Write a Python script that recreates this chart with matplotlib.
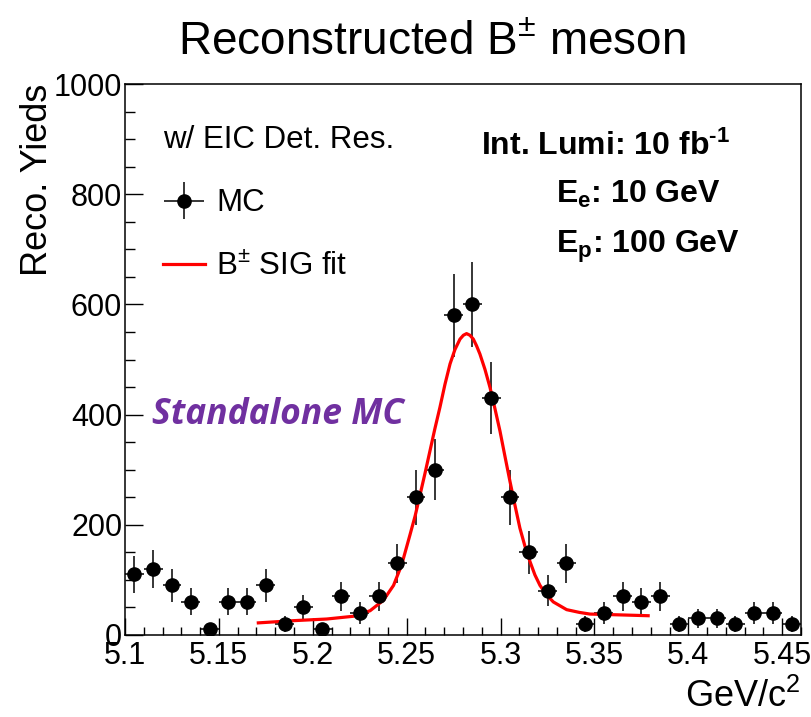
import numpy as np
import matplotlib
matplotlib.use('Agg')
import matplotlib.pyplot as plt
from matplotlib.ticker import MultipleLocator
from matplotlib.container import ErrorbarContainer
from matplotlib.legend_handler import HandlerErrorbar

plt.rcParams['font.family'] = ['Liberation Sans', 'DejaVu Sans']
plt.rcParams['mathtext.fontset'] = 'custom'
plt.rcParams['mathtext.rm'] = 'Liberation Sans'
plt.rcParams['mathtext.it'] = 'Liberation Sans:italic'
plt.rcParams['mathtext.bf'] = 'Liberation Sans:bold'

# B mass histogram (bin centres, GeV/c^2)
mass = [5.105, 5.115, 5.125, 5.135, 5.145, 5.155, 5.165, 5.175, 5.185, 5.195,
        5.205, 5.215, 5.225, 5.235, 5.245, 5.255, 5.265, 5.275, 5.285, 5.295,
        5.305, 5.315, 5.325, 5.335, 5.345, 5.355, 5.365, 5.375, 5.385, 5.395,
        5.405, 5.415, 5.425, 5.435, 5.445, 5.455]
yields = [110, 120, 90, 60, 10, 60, 60, 90, 20, 50,
          10, 70, 40, 70, 130, 250, 300, 580, 600, 430,
          250, 150, 80, 130, 20, 40, 70, 60, 70, 20,
          30, 30, 20, 40, 40, 20]
yield_err = [33, 35, 30, 24.5, 10, 24.5, 24.5, 30, 14, 22,
             10, 26.5, 20, 26.5, 36, 50, 55, 76, 77.5, 66,
             50, 39, 28, 36, 14, 20, 26.5, 24.5, 26.5, 14,
             17, 17, 14, 20, 20, 14]
bin_half = 0.005

# signal fit curve
fit_x = [5.171, 5.1896, 5.2074, 5.2216, 5.2305, 5.2376, 5.2430, 5.2473, 5.2517,
         5.2545, 5.2571, 5.2598, 5.2624, 5.2650, 5.2677, 5.2704, 5.2731, 5.2757,
         5.2784, 5.2802, 5.2819, 5.2837, 5.2855, 5.2872, 5.2890, 5.2917, 5.2944,
         5.2970, 5.2997, 5.3023, 5.3050, 5.3077, 5.3103, 5.3130, 5.3157, 5.3183,
         5.3210, 5.3245, 5.3281, 5.3352, 5.3420, 5.3476, 5.3636, 5.3786]
fit_y = [22, 26, 29, 34, 44, 63, 90, 127, 181,
         216, 254, 294, 334, 374, 413, 455, 492, 518,
         537, 544, 547, 544, 537, 525, 510, 482, 449,
         411, 370, 325, 279, 235, 194, 161, 133, 109,
         90, 73, 60, 46, 41, 38, 36.5, 35]

x_ticks = [5.1, 5.15, 5.2, 5.25, 5.3, 5.35, 5.4, 5.45]
x_ticklabels = ['5.1', '5.15', '5.2', '5.25', '5.3', '5.35', '5.4', '5.45']
y_ticks = [0, 200, 400, 600, 800, 1000]

W, H = 811, 717
fig = plt.figure(figsize=(W / 100, H / 100), dpi=100)
ax = fig.add_axes([125 / W, 1 - 635 / H, (801 - 125) / W, (635 - 84) / H])

eb = ax.errorbar(mass, yields, yerr=yield_err, xerr=bin_half, fmt='o', color='black',
                 ms=9.5, elinewidth=1.1, capsize=0, label='MC')
fit_line, = ax.plot(fit_x, fit_y, color='red', lw=2.3, label=r'B$^{\pm}$ SIG fit')

ax.set_xlim(5.1, 5.46)
ax.set_ylim(0, 1000)
ax.set_xticks(x_ticks)
ax.set_xticklabels(x_ticklabels)
ax.set_yticks(y_ticks)
ax.xaxis.set_minor_locator(MultipleLocator(0.01))
ax.yaxis.set_minor_locator(MultipleLocator(50))
ax.tick_params(axis='both', which='both', direction='in', labelsize=22)
ax.tick_params(axis='x', which='major', length=12, width=1, pad=4.5)
ax.tick_params(axis='x', which='minor', length=6, width=1)
ax.tick_params(axis='y', which='major', length=13, width=1, pad=2)
ax.tick_params(axis='y', which='minor', length=7, width=1)
for s in ax.spines.values():
    s.set_linewidth(1.1)

fig.text(432 / W, 1 - 55 / H, r'Reconstructed B$^{\pm}$ meson', fontsize=33,
         ha='center', va='baseline')
fig.text(38 / W, 1 - 84 / H, 'Reco. Yieds', fontsize=26, rotation=90,
         ha='center', va='top')
fig.text(800 / W, 1 - 707 / H, r'GeV/c$^{2}$', fontsize=26, ha='right', va='baseline')

leg = ax.legend(handles=[eb, fit_line], title='w/ EIC Det. Res.', loc='upper left',
                bbox_to_anchor=(163 / W, 1 - 125 / H), bbox_transform=fig.transFigure,
                frameon=False, fontsize=22.5, title_fontsize=22.5, handlelength=1.35,
                handletextpad=0.35, labelspacing=1.07, borderpad=0, borderaxespad=0,
                alignment='left',
                handler_map={ErrorbarContainer: HandlerErrorbar(xerr_size=0.64, yerr_size=0.59)})

fig.text(481 / W, 1 - 155 / H, 'Int. Lumi: 10 fb$^{\\mathbf{\u2010 1}}$', fontsize=23,
         fontweight='bold', va='baseline')
fig.text(556 / W, 1 - 203 / H, r'E$_{\mathbf{e}}$: 10 GeV', fontsize=23,
         fontweight='bold', va='baseline')
fig.text(556 / W, 1 - 253 / H, r'E$_{\mathbf{p}}$: 100 GeV', fontsize=23,
         fontweight='bold', va='baseline')

fig.text(152 / W, 1 - 424 / H, 'Standalone MC', fontsize=25.5, family='Open Sans',
         fontweight='bold', fontstyle='italic', color='#7030A0', va='baseline')

fig.savefig('out.png', dpi=100)
